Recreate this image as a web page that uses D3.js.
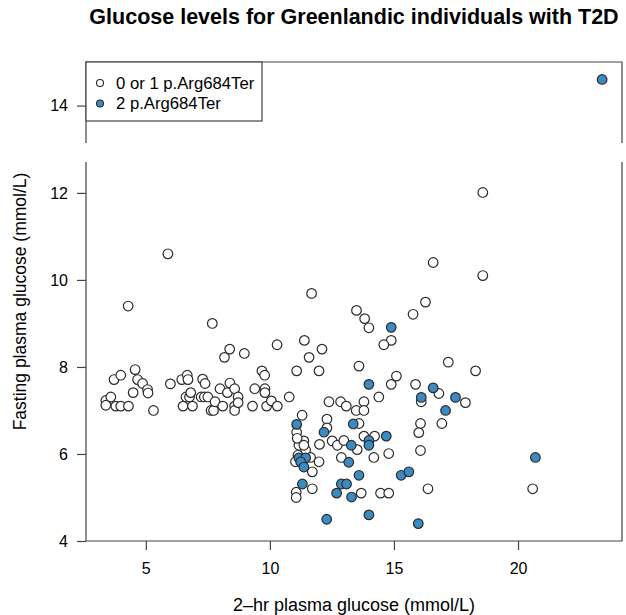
<!DOCTYPE html>
<html>
<head>
<meta charset="utf-8">
<script src="https://cdn.jsdelivr.net/npm/d3@7"></script>
<style>
  body { margin: 0; background: #fff; }
  text { font-family: "Liberation Sans", Arial, sans-serif; fill: #000; }
</style>
</head>
<body>
<div id="chart"></div>
<script>
// data: [2-hr glucose, fasting glucose]
var groups = ["0 or 1 p.Arg684Ter", "2 p.Arg684Ter"];

var carriers01 = [
  [3.39,7.23],[3.39,7.12],[3.59,7.31],[3.72,7.71],[3.99,7.81],[3.79,7.10],[3.99,7.10],[4.30,7.10],
  [4.49,7.41],[4.57,7.94],[4.67,7.71],[4.87,7.62],[5.07,7.48],[5.09,7.40],[5.31,7.00],[4.29,9.40],
  [5.89,10.6],[5.99,7.61],[6.45,7.71],[6.67,7.81],[6.70,7.71],[6.50,7.10],[6.88,7.10],[6.62,7.31],
  [6.76,7.31],[6.81,7.41],[7.29,7.72],[7.39,7.62],[7.23,7.31],[7.36,7.31],[7.50,7.31],[7.63,7.00],
  [7.73,7.00],[7.79,7.20],[7.68,9.00],[7.99,7.50],[8.10,7.10],[8.29,7.41],[8.39,7.63],[8.58,7.50],
  [8.72,7.31],[8.58,7.10],[8.58,7.00],[8.72,7.18],[8.38,8.41],[8.17,8.22],[8.97,8.31],[9.30,7.10],
  [9.39,7.50],[9.68,7.91],[9.79,7.81],[9.80,7.50],[9.80,7.41],[9.87,7.10],[10.06,7.22],[10.30,7.10],
  [10.29,8.51],[10.78,7.31],[11.08,7.91],[11.39,8.61],[11.58,8.22],[11.68,9.69],[12.10,8.41],[11.98,7.91],
  [12.38,7.20],[12.85,7.20],[13.08,7.10],[13.48,7.00],[13.79,7.20],[13.79,7.00],[11.30,6.89],[12.30,6.80],
  [12.30,6.60],[11.08,6.50],[11.37,6.30],[11.17,6.20],[11.44,6.09],[11.13,5.97],[11.03,5.82],[11.10,6.36],
  [11.37,6.20],[11.64,5.92],[11.98,5.82],[11.71,5.59],[11.71,5.20],[11.06,5.12],[11.06,5.00],[12.00,6.22],
  [12.51,6.30],[12.72,6.20],[12.98,6.31],[13.59,6.70],[13.52,6.10],[13.79,6.41],[14.22,6.41],[14.19,5.92],
  [12.88,5.92],[13.68,5.10],[14.46,5.10],[14.79,5.10],[14.79,6.01],[16.37,5.20],[20.59,5.20],[16.07,6.70],
  [16.00,6.49],[16.07,6.08],[16.93,6.70],[17.88,7.18],[16.81,7.39],[16.10,7.20],[14.39,7.31],[14.89,7.60],
  [15.10,7.79],[15.87,7.60],[17.19,8.11],[18.29,7.91],[13.59,8.02],[14.89,8.61],[14.59,8.51],[13.49,9.30],
  [13.82,9.11],[13.99,8.90],[15.77,9.21],[16.27,9.49],[16.58,10.40],[18.58,12.01],[18.58,10.10]
];

var homozygous = [
  [23.39,14.6],[11.08,6.68],[12.18,6.50],[14.89,8.91],[13.99,7.60],[16.58,7.52],[16.10,7.30],[17.48,7.30],
  [17.08,7.00],[13.36,6.69],[14.69,6.41],[13.99,6.31],[13.99,6.20],[13.28,6.20],[20.70,5.92],[15.29,5.51],
  [15.60,5.59],[13.29,5.01],[12.69,5.10],[12.88,5.31],[13.09,5.31],[13.59,5.51],[13.18,5.81],[12.29,4.50],
  [13.99,4.60],[15.98,4.40],[11.17,5.91],[11.44,5.91],[11.24,5.82],[11.37,5.70],[11.31,5.31]
];

var xTicks = [5, 10, 15, 20];
var yTicksLow = [4, 6, 8, 10, 12];
var yTicksHigh = [14];
var gapFrom = 12.71, gapTo = 13.14; // broken y axis

var svgWidth = 626;
var svgHeight = 615;
var plot = { left: 86, right: 622, top: 62, bottom: 541, gapTop: 143, gapBottom: 162 };

var svg = d3.select("#chart")
  .append("svg")
  .attr("width", svgWidth)
  .attr("height", svgHeight);

var allPts = carriers01.concat(homozygous);
var xExt = d3.extent(allPts, function(d) { return d[0]; });
var pad = (xExt[1] - xExt[0]) * 0.04;
var x = d3.scaleLinear().domain([xExt[0] - pad, xExt[1] + pad]).range([plot.left, plot.right]);

var pxPerUnit = (plot.bottom - plot.gapBottom) / (gapFrom - 4);
var yLow = d3.scaleLinear().domain([4, gapFrom]).range([plot.bottom, plot.gapBottom]);
var yHigh = d3.scaleLinear()
  .domain([gapTo, gapTo + (plot.gapTop - plot.top) / pxPerUnit])
  .range([plot.gapTop, plot.top]);
function y(v) { return v > gapFrom ? yHigh(v) : yLow(v); }

// box with the gap in both sides
var boxColor = "#444";
var box = svg.append("g").attr("stroke", boxColor).attr("stroke-width", 1.2).attr("fill", "none");
box.append("path").attr("d",
  "M" + plot.left + "," + plot.gapTop + "V" + plot.top + "H" + plot.right + "V" + plot.gapTop +
  "M" + plot.left + "," + plot.gapBottom + "V" + plot.bottom + "H" + plot.right + "V" + plot.gapBottom);

// axes
function styleAxis(g) {
  g.select(".domain").remove();
  g.selectAll(".tick line").attr("stroke", boxColor).attr("stroke-width", 1.2);
  g.selectAll(".tick text").attr("font-size", 16).attr("fill", "#000");
}

svg.append("g")
  .attr("transform", "translate(0," + plot.bottom + ")")
  .call(d3.axisBottom(x).tickValues(xTicks).tickSize(9).tickPadding(13).tickFormat(d3.format("d")))
  .call(styleAxis);

svg.append("g")
  .attr("transform", "translate(" + plot.left + ",0)")
  .call(d3.axisLeft(yLow).tickValues(yTicksLow).tickSize(9).tickPadding(9).tickFormat(d3.format("d")))
  .call(styleAxis);

svg.append("g")
  .attr("transform", "translate(" + plot.left + ",0)")
  .call(d3.axisLeft(yHigh).tickValues(yTicksHigh).tickSize(9).tickPadding(9).tickFormat(d3.format("d")))
  .call(styleAxis);

// points
var fills = ["#ffffff", "#3b8bc2"];
[carriers01, homozygous].forEach(function(set, i) {
  svg.append("g").selectAll("circle")
    .data(set)
    .enter()
    .append("circle")
    .attr("cx", function(d) { return x(d[0]); })
    .attr("cy", function(d) { return y(d[1]); })
    .attr("r", 4.8)
    .attr("fill", fills[i])
    .attr("stroke", "#2b2b2b")
    .attr("stroke-width", 1.2);
});

// titles
svg.append("text")
  .attr("x", (plot.left + plot.right) / 2)
  .attr("y", 24)
  .attr("text-anchor", "middle")
  .attr("font-size", 21.5)
  .attr("font-weight", "bold")
  .text("Glucose levels for Greenlandic individuals with T2D");

svg.append("text")
  .attr("x", (plot.left + plot.right) / 2)
  .attr("y", 611)
  .attr("text-anchor", "middle")
  .attr("font-size", 18)
  .text("2\u2013hr plasma glucose (mmol/L)");

svg.append("text")
  .attr("transform", "translate(26," + (plot.top + plot.bottom) / 2 + ") rotate(-90)")
  .attr("text-anchor", "middle")
  .attr("font-size", 17.5)
  .text("Fasting plasma glucose (mmol/L)");

// legend
var legend = svg.append("g");
legend.append("rect")
  .attr("x", plot.left).attr("y", plot.top)
  .attr("width", 176).attr("height", 59)
  .attr("fill", "#fff").attr("stroke", boxColor).attr("stroke-width", 1.2);

groups.forEach(function(name, i) {
  var ly = 83 + i * 20.5;
  legend.append("circle")
    .attr("cx", 100).attr("cy", ly).attr("r", 3.5)
    .attr("fill", fills[i]).attr("stroke", "#2b2b2b").attr("stroke-width", 1.1);
  legend.append("text")
    .attr("x", 116).attr("y", ly + 5.5)
    .attr("font-size", 16.7)
    .text(name);
});
</script>
</body>
</html>
